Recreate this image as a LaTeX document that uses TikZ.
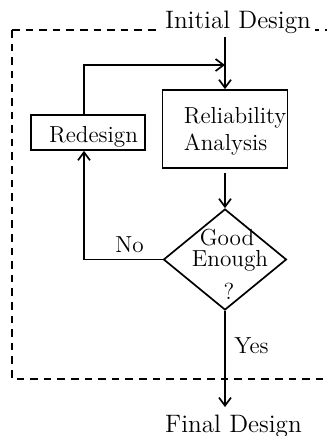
\documentclass[tikz,border=0pt]{standalone}
\usetikzlibrary{shapes.geometric,arrows.meta}
\begin{document}
\begin{tikzpicture}[x=0.5pt,y=-0.5pt,
  line width=0.85pt,
  box/.style={draw,rectangle,inner sep=0pt},
  txt/.style={inner sep=0pt,anchor=base,font=\fontsize{11.6}{13}\selectfont},
  term/.style={inner sep=0pt,anchor=base,font=\fontsize{12.6}{14}\selectfont},
  arr/.style={-{Straight Barb[length=4pt,width=6pt]}},
  frame/.style={line width=0.95pt,dash pattern=on 3.8pt off 3pt}]
\useasboundingbox (0,0) rectangle (327,436);
% dashed frame (right side lies outside the picture)
\draw[frame] (12,30) -- (345,30);
\draw[frame] (12,30) -- (12,379) -- (345,379);
% texts at the ends
\node[term,fill=white,inner xsep=2pt,inner ysep=1pt] (initial) at (238,28) {Initial Design};
\node[term] (final) at (233.5,432) {Final Design};
% boxes
\node[box,minimum width=62.5pt,minimum height=39pt] (rel) at (225,129) {};
\node[txt,anchor=base west] (reltxta) at (183,123) {Reliability};
\node[txt,anchor=base west] (reltxtb) at (183,150) {Analysis};
\node[box,minimum width=57pt,minimum height=17.5pt] (redesign) at (88,132.5) {};
\node[txt] (redtxt) at (93.5,142) {Redesign};
% decision
\node[diamond,draw,minimum width=61.5pt,minimum height=50.5pt,inner sep=0pt] (dec) at (225,259.5) {};
\node[txt] (good) at (227,245) {Good};
\node[txt] (enough) at (230,266) {Enough};
\node[txt] (quest) at (229,299) {?};
\node[txt] (no) at (129.5,252) {No};
\node[txt] (yes) at (251.5,353) {Yes};
% connectors
\coordinate (start) at (225,37);
\coordinate (join) at (225,65);
\coordinate (fend) at (225,407);
\draw[arr] (start) -- (rel.north);
\draw[arr] ([xshift=-2pt]redesign.north) |- (join);
\draw[arr] ([yshift=-2pt]rel.south) -- (dec.north);
\draw[arr] (dec.west) -| ([xshift=-2pt]redesign.south);
\draw[arr] (dec.south) -- (fend);
\end{tikzpicture}
\end{document}
